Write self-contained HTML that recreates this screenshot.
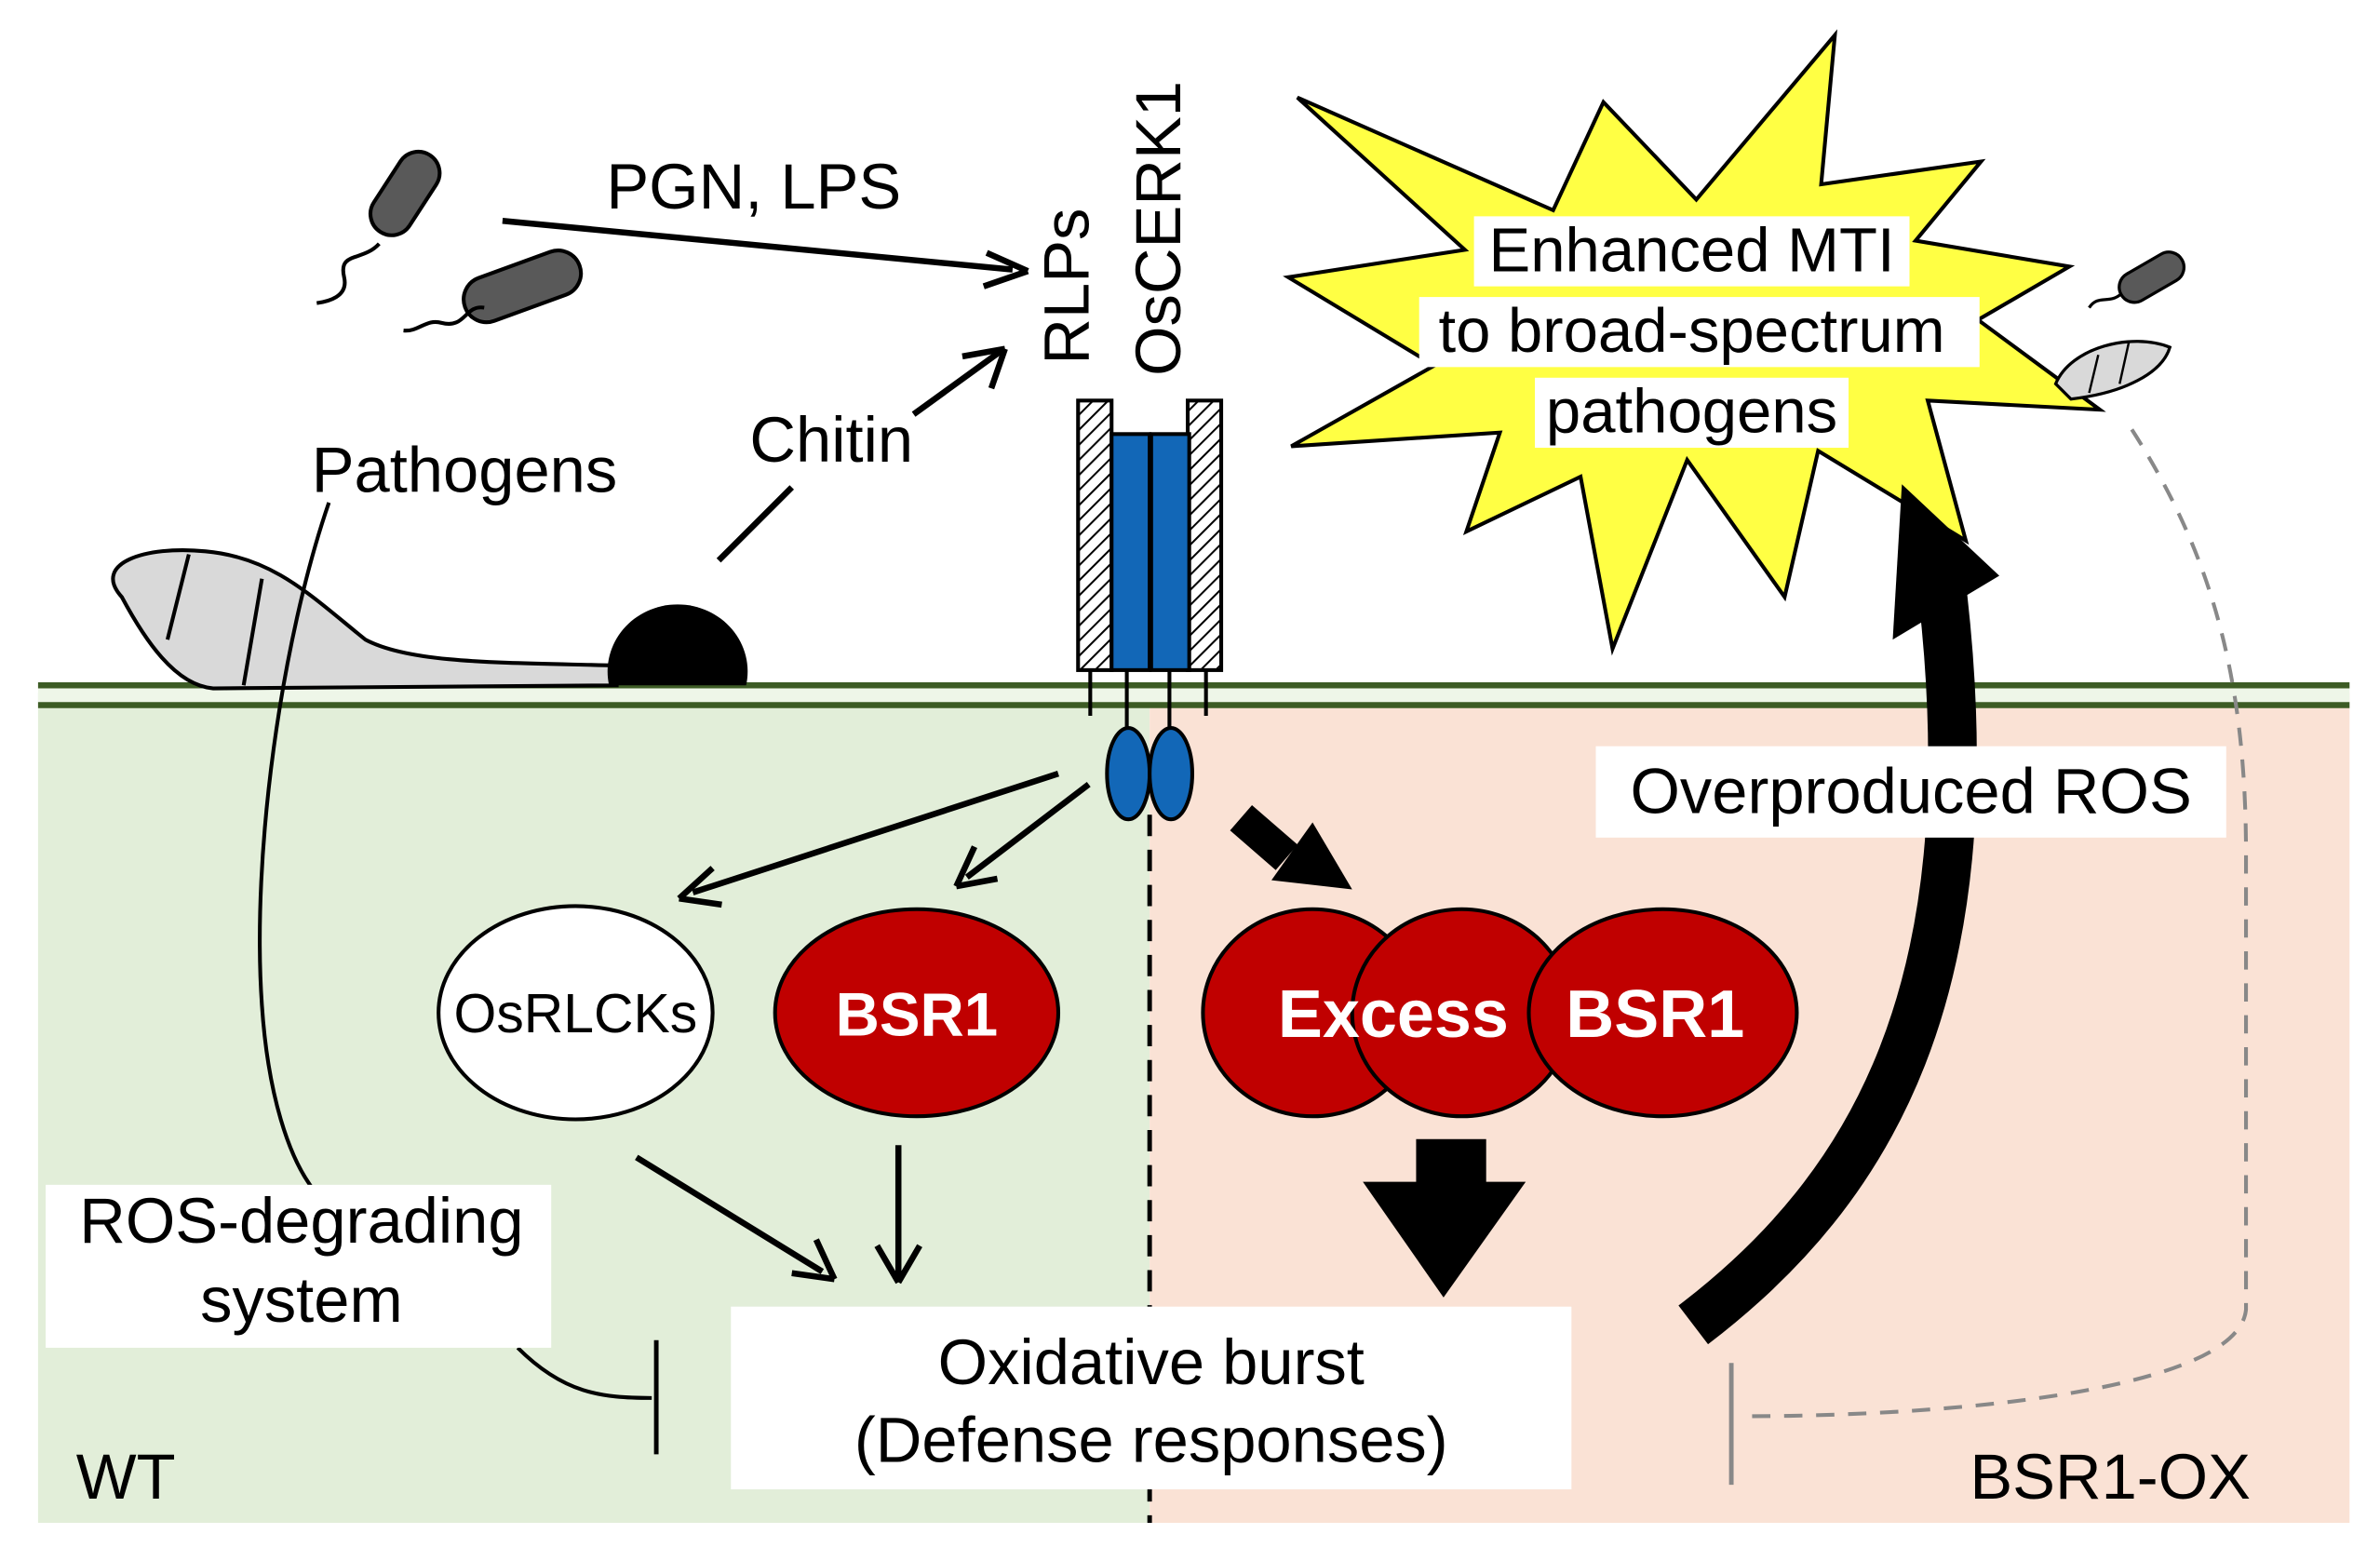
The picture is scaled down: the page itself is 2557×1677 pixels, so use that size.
<!DOCTYPE html>
<html><head><meta charset="utf-8"><style>html,body{margin:0;padding:0;background:#fff}svg{display:block}text{font-family:"Liberation Sans",Arial,sans-serif}</style></head><body>
<svg width="2557" height="1677" viewBox="0 0 1563 1025" xmlns="http://www.w3.org/2000/svg">
<defs>
<pattern id="hatch" width="7" height="7" patternUnits="userSpaceOnUse" patternTransform="rotate(45)"><rect width="7" height="7" fill="#fff"/><line x1="0" y1="0" x2="0" y2="7" stroke="#000" stroke-width="2.5"/></pattern>
</defs>
<rect x="25" y="455" width="730" height="545" fill="#e2eed9"/>
<rect x="755" y="455" width="788" height="545" fill="#fae2d5"/>
<rect x="25" y="450" width="1518" height="13" fill="#eef6e8"/>
<line x1="25" y1="450" x2="1543" y2="450" stroke="#3d5c25" stroke-width="4"/>
<line x1="25" y1="463" x2="1543" y2="463" stroke="#3d5c25" stroke-width="4"/>
<line x1="755" y1="535" x2="755" y2="1000" stroke="#000" stroke-width="3" stroke-dasharray="14,9"/>

<!-- bacteria -->
<g fill="#595959" stroke="#000" stroke-width="2.5">
<rect x="236" y="113" width="60" height="28" rx="14" transform="rotate(-57 266 127)"/>
<rect x="303" y="173" width="80" height="30" rx="15" transform="rotate(-20 343 188)"/>
</g>
<g fill="none" stroke="#000" stroke-width="2.5">
<path d="M249,160 C238,172 222,165 226,182 C229,195 215,198 208,199"/>
<path d="M318,202 C305,200 306,216 290,212 C280,209 275,218 265,217"/>
</g>
<!-- top arrows -->
<line x1="330" y1="145" x2="665" y2="177" stroke="#000" stroke-width="4"/>
<path d="M675,178 L648,166 M675,178 L646,188" stroke="#000" stroke-width="4" fill="none"/>
<text x="495" y="137" font-size="42" text-anchor="middle">PGN, LPS</text>
<line x1="472" y1="368" x2="520" y2="320" stroke="#000" stroke-width="4"/>
<line x1="600" y1="272" x2="658" y2="230" stroke="#000" stroke-width="4"/>
<path d="M660,229 L632,234 M660,229 L651,255" stroke="#000" stroke-width="4" fill="none"/>
<text x="546" y="303" font-size="42" text-anchor="middle">Chitin</text>
<text x="305" y="323" font-size="42" text-anchor="middle">Pathogens</text>
<!-- fungus -->
<path d="M80,392 C60,370 95,358 135,362 C180,366 205,392 240,420 C270,436 330,435 405,437 L405,450 L140,452 C115,450 95,420 80,392 Z" fill="#d9d9d9" stroke="#000" stroke-width="2.5"/>
<line x1="124" y1="364" x2="110" y2="420" stroke="#000" stroke-width="2.5"/>
<line x1="172" y1="380" x2="160" y2="450" stroke="#000" stroke-width="2.5"/>
<path d="M400,450 A46,44 0 1 1 490,450 Z" fill="#000"/>
<path d="M216,330 C185,420 165,560 172,660 C176,720 190,760 205,780" fill="none" stroke="#000" stroke-width="2.5"/>
<path d="M340,885 C370,915 395,918 428,918" fill="none" stroke="#000" stroke-width="2.5"/>
<line x1="431" y1="880" x2="431" y2="955" stroke="#000" stroke-width="3"/>
<!-- receptor -->
<rect x="708" y="263" width="22" height="177" fill="url(#hatch)" stroke="#000" stroke-width="2.5"/>
<rect x="780" y="263" width="22" height="177" fill="url(#hatch)" stroke="#000" stroke-width="2.5"/>
<rect x="730" y="285" width="25" height="155" fill="#1267b7" stroke="#000" stroke-width="2.5"/>
<rect x="756" y="285" width="25" height="155" fill="#1267b7" stroke="#000" stroke-width="2.5"/>
<g stroke="#000" stroke-width="2.5"><line x1="716" y1="440" x2="716" y2="470"/><line x1="740" y1="440" x2="740" y2="480"/><line x1="768" y1="440" x2="768" y2="480"/><line x1="792" y1="440" x2="792" y2="470"/></g>
<ellipse cx="741" cy="508" rx="14" ry="30" fill="#1267b7" stroke="#000" stroke-width="2.5"/>
<ellipse cx="769" cy="508" rx="14" ry="30" fill="#1267b7" stroke="#000" stroke-width="2.5"/>
<text transform="translate(715,188) rotate(-90)" font-size="42" text-anchor="middle">RLPs</text>
<text transform="translate(775,150) rotate(-90)" font-size="42" text-anchor="middle">OsCERK1</text>
<!-- starburst -->
<polygon points="852,64 1020,138 1053,67 1114,131 1205,23 1196,121 1301,106 1258,158 1359,175 1299,210 1379,269 1266,263 1291,355 1194,296 1172,392 1108,302 1059,426 1038,313 963,349 985,284 848,293 942,240 846,182 962,164" fill="#ffff44" stroke="#000" stroke-width="2.5"/>
<rect x="968" y="142" width="286" height="46" fill="#fff"/>
<rect x="932" y="195" width="368" height="46" fill="#fff"/>
<rect x="1008" y="248" width="206" height="46" fill="#fff"/>
<text x="1111" y="178" font-size="41" text-anchor="middle">Enhanced MTI</text>
<text x="1111" y="231" font-size="41" text-anchor="middle">to broad-spectrum</text>
<text x="1111" y="284" font-size="41" text-anchor="middle">pathogens</text>
<!-- small pathogens right -->
<rect x="1390" y="172" width="46" height="20" rx="10" fill="#595959" stroke="#000" stroke-width="2" transform="rotate(-30 1413 182)"/>
<path d="M1393,193 C1385,200 1378,193 1372,202" fill="none" stroke="#000" stroke-width="2"/>
<path d="M1350,252 C1360,228 1400,218 1425,228 C1420,245 1395,258 1360,262 Z" fill="#d9d9d9" stroke="#000" stroke-width="2"/>
<line x1="1378" y1="233" x2="1372" y2="258" stroke="#000" stroke-width="1.5"/>
<line x1="1398" y1="225" x2="1392" y2="252" stroke="#000" stroke-width="1.5"/>
<path d="M1400,282 C1450,360 1475,440 1475,560 L1475,860 C1470,910 1300,930 1142,930" fill="none" stroke="#888" stroke-width="2.5" stroke-dasharray="12,9"/>
<line x1="1137" y1="895" x2="1137" y2="975" stroke="#888" stroke-width="3"/>
<!-- arrows to OsRLCKs/BSR1 -->
<line x1="695" y1="508" x2="455" y2="586" stroke="#000" stroke-width="4"/>
<path d="M446,590 L468,570 M446,590 L474,594" stroke="#000" stroke-width="4" fill="none"/>
<line x1="715" y1="515" x2="635" y2="576" stroke="#000" stroke-width="4"/>
<path d="M628,582 L640,556 M628,582 L655,577" stroke="#000" stroke-width="4" fill="none"/>
<ellipse cx="378" cy="665" rx="90" ry="70" fill="#fff" stroke="#000" stroke-width="2.5"/>
<text x="378" y="678" font-size="36" text-anchor="middle">OsRLCKs</text>
<ellipse cx="602" cy="665" rx="93" ry="68" fill="#c00000" stroke="#000" stroke-width="2.5"/>
<text x="602" y="680" font-size="40" font-weight="bold" fill="#fff" text-anchor="middle">BSR1</text>
<line x1="418" y1="760" x2="540" y2="835" stroke="#000" stroke-width="4"/>
<path d="M548,840 L520,836 M548,840 L536,814" stroke="#000" stroke-width="4" fill="none"/>
<line x1="590" y1="752" x2="590" y2="838" stroke="#000" stroke-width="4"/>
<path d="M590,842 L576,818 M590,842 L604,818" stroke="#000" stroke-width="4" fill="none"/>
<!-- boxes -->
<rect x="480" y="858" width="552" height="120" fill="#fff"/>
<text x="756" y="909" font-size="42" text-anchor="middle">Oxidative burst</text>
<text x="756" y="960" font-size="42" text-anchor="middle">(Defense responses)</text>
<rect x="30" y="778" width="332" height="107" fill="#fff"/>
<text x="198" y="816" font-size="42" text-anchor="middle">ROS-degrading</text>
<text x="198" y="868" font-size="42" text-anchor="middle">system</text>
<text x="50" y="984" font-size="42">WT</text>
<text x="1478" y="984" font-size="42" text-anchor="end">BSR1-OX</text>
<!-- excess -->
<path d="M815,537 L845,563" stroke="#000" stroke-width="22"/>
<polygon points="862,540 888,584 835,578" fill="#000"/>
<ellipse cx="862" cy="665" rx="72" ry="68" fill="#c00000" stroke="#000" stroke-width="2.5"/>
<ellipse cx="960" cy="665" rx="72" ry="68" fill="#c00000" stroke="#000" stroke-width="2.5"/>
<ellipse cx="1092" cy="665" rx="88" ry="68" fill="#c00000" stroke="#000" stroke-width="2.5"/>
<text x="915" y="681" font-size="44" font-weight="bold" fill="#fff" text-anchor="middle">Excess</text>
<text x="1087" y="681" font-size="44" font-weight="bold" fill="#fff" text-anchor="middle">BSR1</text>
<rect x="930" y="748" width="46" height="30" fill="#000"/>
<polygon points="895,776 1002,776 948,852" fill="#000"/>
<!-- big curved arrow -->
<path d="M1112,870 C1230,780 1305,650 1276,392" fill="none" stroke="#000" stroke-width="32"/>
<polygon points="1249,318 1313,378 1243,420" fill="#000"/>
<rect x="1048" y="490" width="414" height="60" fill="#fff"/>
<text x="1255" y="534" font-size="42" text-anchor="middle">Overproduced ROS</text>
</svg>
</body></html>
